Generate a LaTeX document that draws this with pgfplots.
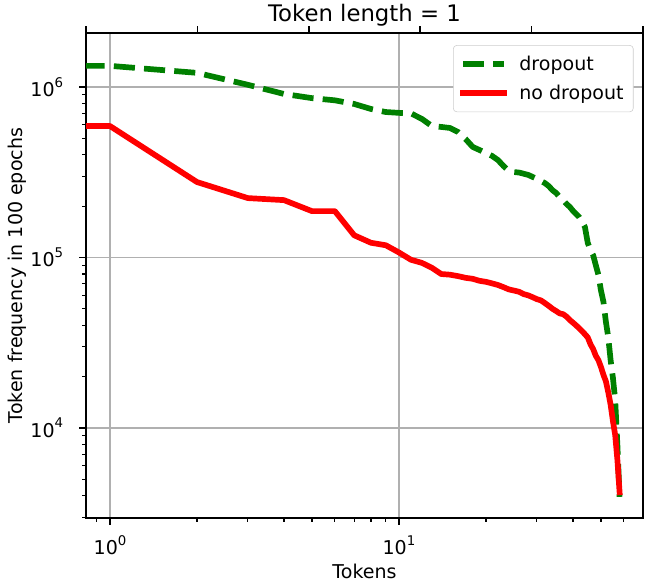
\documentclass[border=0pt]{standalone}
\usepackage{pgfplots}
\pgfplotsset{compat=1.18}
\usepackage{fontspec}
\setmainfont{DejaVu Sans}

\definecolor{mplgreen}{RGB}{0,128,0}
\definecolor{gridgray}{RGB}{176,176,176}

% 1px of the reference = 0.72pt
\newcommand{\lblfont}{\fontsize{13.7}{16}\selectfont}
\newcommand{\supfont}{\fontsize{9.6}{11}\selectfont}

\begin{document}
\begin{tikzpicture}
\begin{axis}[
    scale only axis,
    width=401pt, height=349.2pt,
    xmode=log, ymode=log,
    log basis x=10, log basis y=10,
    xmin=0.826, xmax=69.9,
    ymin=2.966e3, ymax=2.073e6,
    tick pos=left,
    tick align=outside,
    major tick length=4.8pt,
    minor tick length=2.7pt,
    every major tick/.style={line width=1.1pt, black},
    every minor tick/.style={line width=0.8pt, black},
    axis line style={line width=1.1pt},
    grid=major,
    major grid style={gridgray, line width=1.1pt},
    /pgf/number format/assume math mode=true,
    tick label style={font=\lblfont},
    xticklabel={\pgfmathtruncatemacro\e{round(\tick)}10\raisebox{0.5em}{\supfont\e}},
    yticklabel={\pgfmathtruncatemacro\e{round(\tick)}10\raisebox{0.5em}{\supfont\e}},
    xticklabel style={anchor=base, yshift=-21.6pt},
    yticklabel style={anchor=east, inner sep=0pt, xshift=-11.5pt},
    xlabel={Tokens},
    ylabel={Token frequency in 100 epochs},
    label style={font=\lblfont},
    xlabel style={at={(axis description cs:0.5,-0.1237)}, anchor=base},
    ylabel style={at={(axis description cs:-0.1132,0.5)}, anchor=base},
    legend cell align=left,
    legend style={
        at={(axis description cs:0.983,0.975)}, anchor=north east,
        draw=black!20, rounded corners=2.5pt, fill=white,
        font=\lblfont, inner xsep=5pt, inner ysep=5.5pt, row sep=5pt,
        /tikz/every odd column/.append style={column sep=7pt},
    },
    legend image code/.code={
        \draw[#1] (0pt,0pt) -- (29.5pt,0pt);
    },
]
\coordinate (sw) at (rel axis cs:0,0);
\coordinate (ne) at (rel axis cs:1,1);
\coordinate (tt) at (rel axis cs:0.5,1);

% dropout
\addplot[mplgreen, line width=4.1pt, dash pattern=on 15.2pt off 6.6pt, line cap=butt, line join=round] coordinates {
(0.5,1.33e6) (1,1.33e6) (2,1.21e6) (3,1.03e6) (4,9.1e5) (5,8.6e5) (6,8.35e5)
(7,7.95e5) (8,7.43e5) (9,7.13e5) (10,7.05e5) (11,7.0e5) (12,6.5e5) (13,5.9e5)
(14,5.83e5) (15,5.75e5) (16,5.45e5) (17,4.95e5) (18,4.45e5) (19,4.27e5)
(20,4.1e5) (21,3.94e5) (22,3.73e5) (23,3.44e5) (24,3.22e5) (25,3.17e5)
(26,3.15e5) (27,3.1e5) (28,3.05e5) (29,2.97e5) (30,2.89e5) (31,2.81e5)
(32,2.73e5) (33,2.62e5) (34,2.48e5) (35,2.39e5) (36,2.26e5) (37,2.17e5)
(38,2.06e5) (39,1.98e5) (40,1.88e5) (41,1.8e5) (42,1.73e5) (43,1.62e5)
(44,1.51e5) (45,1.22e5) (46,1.1e5) (47,1.03e5) (48,9.0e4) (49,7.9e4)
(50,6.4e4) (51,5.5e4) (52,4.2e4) (53,3.4e4) (54,2.5e4) (55,1.97e4)
(56,1.46e4) (57,7.9e3) (58,3.95e3)
};
\addlegendentry{dropout}

% no dropout
\addplot[red, line width=4.1pt, line cap=rect, line join=round] coordinates {
(0.5,5.9e5) (1,5.9e5) (2,2.77e5) (3,2.23e5) (4,2.17e5) (5,1.87e5) (6,1.87e5)
(7,1.35e5) (8,1.22e5) (9,1.18e5) (10,1.07e5) (11,9.7e4) (12,9.3e4) (13,8.7e4)
(14,8.0e4) (15,7.93e4) (16,7.78e4) (17,7.6e4) (18,7.5e4) (19,7.3e4)
(20,7.2e4) (21,7.05e4) (22,6.9e4) (23,6.7e4) (24,6.5e4) (25,6.4e4)
(26,6.3e4) (27,6.1e4) (28,6.0e4) (29,5.85e4) (30,5.7e4) (31,5.6e4)
(32,5.4e4) (33,5.2e4) (34,5.0e4) (35,4.85e4) (36,4.7e4) (37,4.65e4)
(38,4.5e4) (39,4.3e4) (40,4.15e4) (41,4.0e4) (42,3.85e4) (43,3.7e4)
(44,3.55e4) (45,3.4e4) (46,3.1e4) (47,2.9e4) (48,2.65e4) (49,2.5e4)
(50,2.28e4) (51,2.05e4) (52,1.88e4) (53,1.62e4) (54,1.37e4) (55,1.1e4)
(56,9.1e3) (57,6.5e3) (58,4.2e3)
};
\addlegendentry{no dropout}
\end{axis}

% secondary top axis with unlabeled linear ticks
\begin{axis}[
    scale only axis,
    width=401pt, height=349.2pt,
    xmin=0, xmax=5, ymin=0, ymax=1,
    axis x line*=top,
    hide y axis,
    xtick={0,1,2,3,4,5},
    xticklabels={},
    tick align=outside,
    major tick length=4.8pt,
    every major tick/.style={line width=1.1pt, black},
    axis line style={line width=1.1pt, -},
]
\end{axis}

\node[anchor=base, yshift=8.2pt, font=\fontsize{16.4}{19}\selectfont] at (tt) {Token length = 1};

\pgfresetboundingbox
\path ([shift={(-61.92pt,-48.96pt)}]sw) rectangle ([shift={(1.44pt,23.76pt)}]ne);
\end{tikzpicture}
\end{document}
